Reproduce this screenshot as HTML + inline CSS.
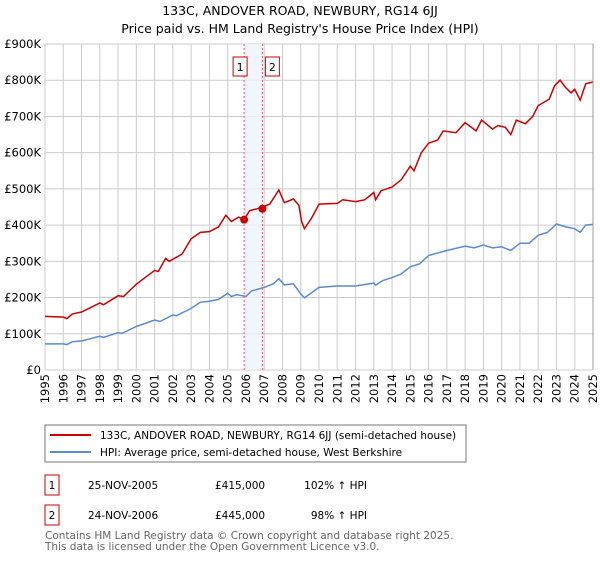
<!DOCTYPE html>
<html><head><meta charset="utf-8"><style>
body{margin:0;background:#fff;font-family:"DejaVu Sans","Liberation Sans",sans-serif;}
svg text{font-family:"DejaVu Sans","Liberation Sans",sans-serif;}
</style></head><body>
<svg id="chart" width="600" height="560" viewBox="0 0 600 560" xmlns="http://www.w3.org/2000/svg">
<text x="300" y="15" text-anchor="middle" font-size="12.5">133C, ANDOVER ROAD, NEWBURY, RG14 6JJ</text>
<text x="300" y="33" text-anchor="middle" font-size="12.5">Price paid vs. HM Land Registry's House Price Index (HPI)</text>
<g id="grid"></g>
<rect id="band" fill="#eef2fb" opacity="0.8"/>
<g id="marks"></g>
<g id="axes"></g>
<rect x="45" y="425" width="421" height="37" fill="#fff" stroke="#777"/>
<line x1="50" y1="435" x2="91" y2="435" stroke="#cc0000" stroke-width="2"/>
<text x="100" y="439" font-size="10.5">133C, ANDOVER ROAD, NEWBURY, RG14 6JJ (semi-detached house)</text>
<line x1="50" y1="452" x2="91" y2="452" stroke="#5b8bd0" stroke-width="2"/>
<text x="100" y="456" font-size="10.5">HPI: Average price, semi-detached house, West Berkshire</text>
<g>
<rect x="45" y="475" width="14" height="20" fill="#fff" stroke="#cc0000"/>
<text x="52" y="489" text-anchor="middle" font-size="10.5">1</text>
<text x="88" y="489" font-size="10.5">25-NOV-2005</text>
<text x="215" y="489" font-size="10.5">£415,000</text>
<text x="367" y="489" text-anchor="end" font-size="10.5">102% ↑ HPI</text>
</g>
<g>
<rect x="45" y="505" width="14" height="20" fill="#fff" stroke="#cc0000"/>
<text x="52" y="519" text-anchor="middle" font-size="10.5">2</text>
<text x="88" y="519" font-size="10.5">24-NOV-2006</text>
<text x="215" y="519" font-size="10.5">£445,000</text>
<text x="367" y="519" text-anchor="end" font-size="10.5">98% ↑ HPI</text>
</g>
<text x="45" y="539" font-size="10.5" fill="#666">Contains HM Land Registry data © Crown copyright and database right 2025.</text>
<text x="45" y="550" font-size="10.5" fill="#666">This data is licensed under the Open Government Licence v3.0.</text>
</svg>
<script>
const hpiYears=[1995,1996,1996.2,1996.5,1997,1998,1998.2,1999,1999.2,2000,2001,2001.3,2002,2002.2,2003,2003.5,2004,2004.5,2005,2005.2,2005.5,2006,2006.3,2007,2007.5,2007.8,2008.1,2008.6,2009,2009.2,2010,2011,2012,2012.5,2013,2013.1,2013.5,2014,2014.5,2015,2015.5,2016,2017,2018,2018.5,2019,2019.5,2020,2020.5,2021,2021.5,2022,2022.5,2023,2023.5,2024,2024.3,2024.6,2025];
const hpiValues=[72,72,70,78,80,93,90,103,101,120,138,134,152,150,170,187,190,195,212,203,208,203,218,228,238,252,235,238,210,199,228,232,232,236,240,234,247,255,265,285,293,316,330,342,337,345,337,340,330,350,350,372,380,403,395,390,380,400,402];
const priceYears=[1995,1996,1996.2,1996.5,1997,1998,1998.2,1999,1999.3,2000,2001,2001.2,2001.6,2001.8,2002.5,2003,2003.5,2004,2004.5,2004.9,2005.2,2005.6,2005.9,2006.2,2006.6,2006.9,2007.3,2007.8,2008.1,2008.6,2008.9,2009.05,2009.2,2009.6,2010,2011,2011.3,2012,2012.5,2013,2013.1,2013.4,2014,2014.5,2015,2015.2,2015.6,2016,2016.5,2016.8,2017.5,2018,2018.6,2018.9,2019.5,2019.8,2020.2,2020.5,2020.8,2021.3,2021.7,2022,2022.6,2022.9,2023.2,2023.5,2023.8,2024,2024.3,2024.6,2025];
const priceValues=[148,146,142,155,160,185,180,205,203,237,275,272,308,300,320,362,380,382,395,427,410,422,415,440,445,450,458,497,462,472,455,410,390,420,458,460,470,465,470,490,470,495,505,525,563,550,600,626,635,660,655,683,660,690,665,675,670,650,690,680,700,730,748,785,800,780,765,775,745,790,795];
const saleYears=[2005.9,2006.9];
const saleValues=[415,445];
const yTicks=[0,100,200,300,400,500,600,700,800,900];
const yTickLabels=["£0","£100K","£200K","£300K","£400K","£500K","£600K","£700K","£800K","£900K"];
const xTicks=[1995,1996,1997,1998,1999,2000,2001,2002,2003,2004,2005,2006,2007,2008,2009,2010,2011,2012,2013,2014,2015,2016,2017,2018,2019,2020,2021,2022,2023,2024,2025];

const NS="http://www.w3.org/2000/svg";
const X0=45,X1=593,Y0=370,Y1=44;
const xs=y=>X0+(y-1995)/30*(X1-X0);
const ys=v=>Y0-v/900*(Y0-Y1);
function mk(tag,attrs,parent){const e=document.createElementNS(NS,tag);for(const k in attrs)e.setAttribute(k,attrs[k]);parent.appendChild(e);return e;}
const grid=document.getElementById('grid'),marks=document.getElementById('marks'),axes=document.getElementById('axes');
yTicks.forEach((t,i)=>{
 const l=mk('line',{x1:X0,x2:X1,y1:ys(t),y2:ys(t),stroke:'#ccc'},grid);
 
 
 const tx=mk('text',{x:X0-4,y:ys(t)+4,'text-anchor':'end','font-size':'11.5'},axes);
 tx.textContent=yTickLabels[i];
 
 
});
xTicks.forEach(t=>{
 const l=mk('line',{x1:xs(t),x2:xs(t),y1:Y1,y2:Y0,stroke:'#ccc'},grid);
 
 
 const tx=mk('text',{transform:`translate(${xs(t)+4},374) rotate(-90)`,'text-anchor':'end','font-size':'11.5'},axes);
 tx.textContent=t;
 
 
});
const band=document.getElementById('band');
band.setAttribute('x',xs(saleYears[0]));band.setAttribute('y',Y1);
band.setAttribute('width',xs(saleYears[1])-xs(saleYears[0]));band.setAttribute('height',Y0-Y1);
function path(yrs,vals){return yrs.map((y,i)=>(i?'L':'M')+xs(y).toFixed(1)+','+ys(vals[i]).toFixed(1)).join(' ');}
const hp=mk('path',{d:path(hpiYears,hpiValues),fill:'none',stroke:'#5b8bd0','stroke-width':'1.5'},marks);


const pp=mk('path',{d:path(priceYears,priceValues),fill:'none',stroke:'#cc0000','stroke-width':'1.5'},marks);


saleYears.forEach((y,i)=>{
 const vl=mk('line',{x1:xs(y),x2:xs(y),y1:Y1,y2:Y0,stroke:'#f06060','stroke-dasharray':'2,2'},marks);
 
 
 const c=mk('circle',{cx:xs(y),cy:ys(saleValues[i]),r:4,fill:'#cc0000'},marks);
 
 
 const bx=xs(y)+(i===0?-11:3);
 const r=mk('rect',{x:bx,y:57,width:14,height:19,fill:'#fff',stroke:'#cc0000'},marks);
 
 
 const t=mk('text',{x:bx+7,y:71,'text-anchor':'middle','font-size':'11'},marks);
 t.textContent=String(i+1);
 
 
});
const ax=mk('line',{x1:X1,x2:X1,y1:Y1,y2:Y0,stroke:'#999'},axes);


</script>
</body></html>
